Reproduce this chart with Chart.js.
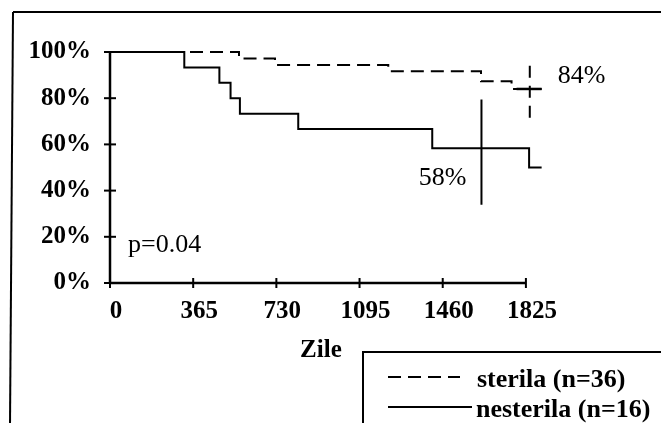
<!DOCTYPE html>
<html><head><meta charset="utf-8">
<script src="https://cdn.jsdelivr.net/npm/chart.js@4/dist/chart.umd.min.js"></script>
<style>html,body{margin:0;padding:0;background:#fff;overflow:hidden}canvas{display:block}</style>
</head><body>
<canvas id="c" width="661" height="423"></canvas>
<script>
// ---- data ----
const xTicks = [0, 365, 730, 1095, 1460, 1825];
const yTicks = [0, 20, 40, 60, 80, 100];
const xAxisTitle = 'Zile';
const seriesLabels = ['sterila (n=36)', 'nesterila (n=16)'];
const sterilaDays = [0, 566, 724, 1221, 1628, 1762, 1894];
const sterilaSurv = [100, 97.2, 94.4, 91.7, 87.3, 84, 84];
const nesterilaDays = [0, 326, 480, 529, 570, 826, 1414, 1839, 1894];
const nesterilaSurv = [100, 93.3, 86.7, 80, 73.3, 66.7, 58.3, 50, 50];
const sterilaCIDays = [1842, 1842];
const sterilaCI = [94, 70];
const sterilaCapDays = [1784, 1894];
const sterilaCap = [84, 84];
const nesterilaCIDays = [1630, 1630];
const nesterilaCI = [79.4, 33.9];
const endLabels = ['84%', '58%'];
const pLabel = 'p=0.04';

const SERIF = "'Liberation Serif','Times New Roman',serif";
const pts = (xs, ys) => xs.map((x, i) => ({x, y: ys[i]}));
const DASH = [13, 7];

const decor = {
  id: 'decor',
  beforeDraw(chart) {
    const c = chart.ctx;
    c.save(); c.fillStyle = '#fff'; c.fillRect(0, 0, chart.width, chart.height); c.restore();
  },
  afterDraw(chart) {
    const c = chart.ctx, xs = chart.scales.x, ys = chart.scales.y, a = chart.chartArea;
    c.save();
    c.strokeStyle = '#000'; c.fillStyle = '#000';
    // outer frame
    c.lineWidth = 2;
    c.beginPath(); c.moveTo(13, 12); c.lineTo(chart.width + 2, 12); c.stroke();
    c.beginPath(); c.moveTo(13, 12); c.lineTo(10, chart.height + 2); c.stroke();
    // axes
    const x0 = xs.getPixelForValue(xTicks[0]), x1 = xs.getPixelForValue(xTicks[xTicks.length - 1]);
    const yb = ys.getPixelForValue(yTicks[0]), yt = ys.getPixelForValue(yTicks[yTicks.length - 1]);
    c.lineWidth = 2.5;
    c.beginPath(); c.moveTo(x0, yb); c.lineTo(x1, yb); c.stroke();
    c.beginPath(); c.moveTo(x0, yb); c.lineTo(x0, yt); c.stroke();
    c.lineWidth = 2;
    xTicks.forEach(v => { const p = xs.getPixelForValue(v); c.beginPath(); c.moveTo(p, yb - 5); c.lineTo(p, yb + 5); c.stroke(); });
    yTicks.forEach(v => { const p = ys.getPixelForValue(v); c.beginPath(); c.moveTo(x0 - 6, p); c.lineTo(x0 + 6, p); c.stroke(); });
    // axis title
    c.font = 'bold 25px ' + SERIF; c.textAlign = 'center'; c.textBaseline = 'alphabetic';
    c.fillText(xAxisTitle, (x0 + x1) / 2 + 3, 357);
    // annotations
    c.font = '26px ' + SERIF; c.textAlign = 'left';
    c.fillText(endLabels[0], xs.getPixelForValue(sterilaCIDays[0]) + 28, ys.getPixelForValue(sterilaCap[0]) - 6);
    c.textAlign = 'right';
    c.fillText(endLabels[1], xs.getPixelForValue(nesterilaCIDays[0]) - 15, ys.getPixelForValue(nesterilaSurv[6]) + 37);
    c.textAlign = 'left';
    c.fillText(pLabel, a.left + 18, yb - 31);
    // legend box
    const lx = 363, ly = 352;
    c.lineWidth = 2;
    c.beginPath(); c.moveTo(lx, chart.height + 2); c.lineTo(lx, ly); c.lineTo(chart.width + 2, ly); c.stroke();
    const ds = chart.data.datasets;
    c.font = 'bold 26px ' + SERIF; c.textAlign = 'left'; c.textBaseline = 'alphabetic';
    // entry 1 (dashed)
    c.lineWidth = ds[0].borderWidth; c.setLineDash(ds[0].borderDash);
    c.beginPath(); c.moveTo(388, 377); c.lineTo(460, 377); c.stroke();
    c.setLineDash([]);
    c.fillText(ds[0].label, 477, 387);
    // entry 2 (solid)
    c.lineWidth = ds[1].borderWidth;
    c.beginPath(); c.moveTo(388, 407); c.lineTo(472, 407); c.stroke();
    c.fillText(ds[1].label, 476, 417);
    c.restore();
  }
};

const common = {stepped: 'before', pointRadius: 0, borderColor: '#000', fill: false, clip: false};

new Chart(document.getElementById('c'), {
  type: 'line',
  data: {
    datasets: [
      {...common, label: seriesLabels[0], data: pts(sterilaDays, sterilaSurv), borderWidth: 2, borderDash: DASH},
      {...common, label: seriesLabels[1], data: pts(nesterilaDays, nesterilaSurv), borderWidth: 2},
      {...common, stepped: false, label: 'ci1', data: pts(sterilaCIDays, sterilaCI), borderWidth: 2, borderDash: [12, 8]},
      {...common, stepped: false, label: 'cap1', data: pts(sterilaCapDays, sterilaCap), borderWidth: 2.5},
      {...common, stepped: false, label: 'ci2', data: pts(nesterilaCIDays, nesterilaCI), borderWidth: 2}
    ]
  },
  options: {
    responsive: false, animation: false,
    layout: {padding: {top: 52, right: 118, bottom: 0, left: 0}},
    plugins: {legend: {display: false}, tooltip: {enabled: false}},
    scales: {
      x: {
        type: 'linear', min: 0, max: 1900,
        afterBuildTicks: s => { s.ticks = xTicks.map(v => ({value: v})); },
        afterFit: s => { s.height = 140; },
        grid: {display: false, drawTicks: false},
        border: {display: false},
        ticks: {color: '#000', font: {family: SERIF, size: 25, weight: 'bold'}, padding: 14, labelOffset: 6, maxRotation: 0, autoSkip: false, callback: v => String(v)}
      },
      y: {
        min: 0, max: 100,
        afterBuildTicks: s => { s.ticks = yTicks.map(v => ({value: v})); },
        afterFit: s => { s.width = 110; },
        grid: {display: false, drawTicks: false},
        border: {display: false},
        ticks: {color: '#000', font: {family: SERIF, size: 25, weight: 'bold'}, padding: 19, labelOffset: 0, callback: v => v + '%'}
      }
    }
  },
  plugins: [decor]
});
</script>
</body></html>
